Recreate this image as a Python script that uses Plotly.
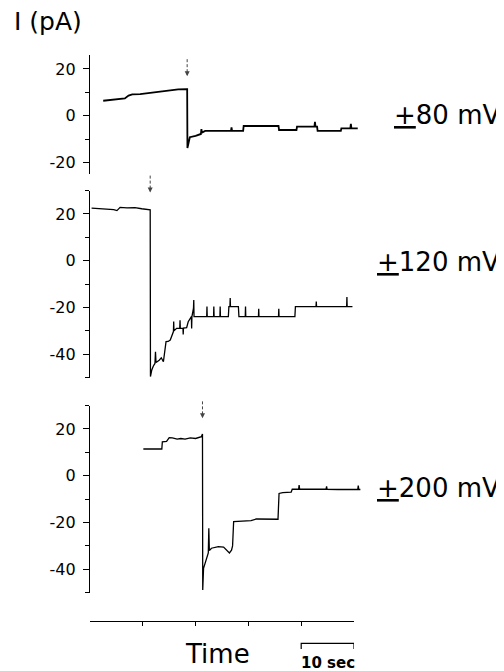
import plotly.graph_objects as go

# ---------------- data ----------------
# +/-80 mV trace (time in s, current in pA)
t_80 = [2.5, 4.5, 6.6, 7.3, 8.0, 9.5, 11.7, 13.0, 14.8, 16.7, 18.3, 18.4, 18.45, 18.9, 20.0, 20.6,
        21.0, 21.1, 21.2, 21.8, 26.7, 26.8, 26.9, 29.0, 29.1, 35.7, 35.8, 39.1, 39.2, 42.5, 42.6,
        42.7, 43.0, 43.1, 47.5, 47.6, 49.3, 49.4, 49.5, 50.7]
i_80 = [6.4, 6.8, 7.4, 8.6, 9.1, 9.2, 9.8, 10.1, 10.9, 11.3, 11.4, 11.4, -13.8, -9.2, -8.6, -8.2,
        -7.8, -5.7, -7.2, -6.5, -6.5, -5.0, -6.5, -6.5, -4.4, -4.4, -6.1, -6.1, -4.7, -4.7, -2.6,
        -4.7, -4.7, -6.5, -6.5, -5.4, -5.4, -3.5, -5.4, -5.4]

# +/-120 mV trace
t_120 = [0.3, 1.5, 3.0, 4.5, 5.1, 5.7, 7.0, 8.5, 9.8, 11.2, 11.4, 11.45, 11.7, 12.0, 12.3, 12.4,
         12.5, 13.1, 13.5, 13.9, 14.4, 14.8, 15.2, 15.8, 15.85, 15.9, 16.4, 17.0, 17.05, 17.1,
         17.6, 17.65, 17.7, 18.3, 18.6, 19.2, 19.25, 19.3, 19.6, 19.65, 19.7, 20.3, 22.1, 22.15,
         22.2, 23.4, 23.45, 23.5, 24.6, 24.65, 24.7, 26.2, 26.3, 26.5, 26.55, 26.6, 28.1, 28.2,
         29.4, 29.45, 29.5, 31.9, 31.95, 32.0, 35.7, 35.75, 35.8, 38.8, 38.9, 42.8, 42.85, 42.9,
         48.6, 48.65, 48.7, 49.7]
i_120 = [22.5, 22.3, 22.1, 21.8, 21.4, 22.8, 22.6, 22.7, 22.2, 21.7, 21.7, -49.5, -46.7, -45.0,
         -43.9, -38.9, -43.5, -42.5, -41.5, -43.2, -34.6, -34.5, -33.9, -30.3, -26.0, -30.0,
         -28.9, -28.9, -25.5, -28.9, -28.8, -31.5, -28.8, -28.6, -26.1, -23.9, -29.0, -23.9,
         -20.3, -16.8, -23.9, -23.9, -23.9, -19.6, -23.9, -23.9, -19.6, -23.9, -23.9, -19.6,
         -23.9, -23.9, -19.6, -19.6, -16.0, -19.6, -19.6, -23.9, -23.9, -19.6, -23.9, -23.9,
         -20.5, -23.9, -23.9, -20.5, -23.9, -23.9, -19.6, -19.6, -17.5, -19.6, -19.6, -15.5,
         -19.6, -19.6]

# +/-200 mV trace
t_200 = [10.1, 13.6, 13.7, 14.5, 15.0, 15.6, 16.5, 17.2, 18.0, 19.0, 20.0, 20.8, 21.1, 21.3,
         21.35, 21.5, 22.1, 22.4, 22.5, 22.6, 23.0, 23.7, 24.3, 25.3, 25.9, 26.4, 26.8, 27.0,
         27.2, 28.5, 30.5, 31.5, 33.0, 35.6, 35.8, 36.5, 38.1, 38.3, 39.5, 39.6, 39.7, 44.7,
         44.8, 44.9, 47.0, 50.7, 50.8, 50.9, 51.2]
i_200 = [11.4, 11.4, 14.5, 14.7, 16.3, 16.2, 15.6, 15.9, 15.6, 16.2, 15.9, 16.6, 16.7, 17.8,
         -48.8, -39.6, -35.3, -33.0, -22.5, -32.0, -31.0, -30.5, -30.3, -30.5, -31.8, -33.0,
         -31.8, -30.0, -19.6, -19.4, -19.2, -18.5, -18.6, -18.6, -7.6, -7.2, -7.0, -5.8, -5.8,
         -4.0, -5.8, -5.8, -4.6, -5.8, -5.9, -5.9, -4.2, -5.9, -5.9]

voltage_labels = ["<u>+</u>80 mV", "<u>+</u>120 mV", "<u>+</u>200 mV"]
switch_times = [18.4, 11.4, 21.3]          # voltage reversal (arrows)
arrow_tips = [16.9, 29.1, 24.5]            # current level at arrow tip (pA)
y_ranges = [[-25, 26], [-50, 30], [-50, 30]]
y_tick_vals = [[-20, 0, 20], [-40, -20, 0, 20], [-40, -20, 0, 20]]
y_tick_text = [["-20", "0", "20"], ["-40", "-20", "0", "20"], ["-40", "-20", "0", "20"]]
y_minor_vals = [[-10, 10], [-50, -30, -10, 10, 30], [-50, -30, -10, 10, 30]]
time_ticks = [0, 10, 20, 30, 40, 50]
scale_bar = [40, 50]                        # 10 sec bar

# ---------------- figure ----------------
# page body has an 8px margin: lay the figure out in reference-pixel terms, offset by 8
OFF = 8
W, H = 504 - OFF, 671 - OFF
FONT = "DejaVu Sans"


def fx(px):
    return (px - OFF) / W


def fy(py):
    return 1 - (py - OFF) / H


x_dom = [fx(90), fx(364.6)]
y_doms = [[fy(174.2), fy(54.9)], [fy(377.7), fy(190.5)], [fy(592.7), fy(405.5)]]

fig = go.Figure()
traces = [(t_80, i_80, 1.8), (t_120, i_120, 1.3), (t_200, i_200, 1.3)]
for k, (tt, ii, lw) in enumerate(traces):
    fig.add_trace(go.Scatter(x=tt, y=ii, mode="lines",
                             line=dict(color="black", width=lw),
                             xaxis="x" if k == 0 else f"x{k+1}",
                             yaxis="y" if k == 0 else f"y{k+1}",
                             hoverinfo="skip", cliponaxis=False))

# scale bar on the time-axis subplot (y4 measured downward from the time axis, px)
fig.add_trace(go.Scatter(x=[scale_bar[0], scale_bar[0], scale_bar[1], scale_bar[1]],
                         y=[27, 21.3, 21.3, 27], mode="lines",
                         line=dict(color="black", width=1.2),
                         xaxis="x4", yaxis="y4", hoverinfo="skip", cliponaxis=False))

layout = dict(width=W, height=H, autosize=False,
              margin=dict(l=0, r=0, t=0, b=0),
              paper_bgcolor="white", plot_bgcolor="white",
              showlegend=False,
              font=dict(family=FONT, color="black"))

for k in range(3):
    xn = "xaxis" if k == 0 else f"xaxis{k+1}"
    yn = "yaxis" if k == 0 else f"yaxis{k+1}"
    layout[xn] = dict(domain=x_dom, range=[0, 52], visible=False,
                      anchor="y" if k == 0 else f"y{k+1}")
    layout[yn] = dict(domain=y_doms[k], range=y_ranges[k],
                      anchor="x" if k == 0 else f"x{k+1}",
                      showline=True, linecolor="black", linewidth=1.3,
                      showgrid=False, zeroline=False,
                      ticks="outside", ticklen=6, tickwidth=1.2, tickcolor="black",
                      tickmode="array", tickvals=y_tick_vals[k], ticktext=y_tick_text[k],
                      ticklabelstandoff=4,
                      tickfont=dict(family=FONT, size=16, color="black"),
                      minor=dict(tickmode="array", tickvals=y_minor_vals[k],
                                 ticks="outside", ticklen=4,
                                 tickwidth=1.2, tickcolor="black"))

layout["xaxis4"] = dict(domain=[fx(90), fx(354)], range=[0, 50], anchor="y4", side="top",
                        showline=True, linecolor="black", linewidth=1.2,
                        showgrid=False, zeroline=False, showticklabels=False,
                        ticks="inside", ticklen=4, tickwidth=1, tickcolor="black",
                        tickvals=time_ticks)
layout["yaxis4"] = dict(domain=[fy(650), fy(622)], range=[28, 0], visible=False,
                        anchor="x4")

fig.update_layout(**layout)

annotations = []
shapes = []
label_y = [115, 262, 488]
for k in range(3):
    xr = "x" if k == 0 else f"x{k+1}"
    yr = "y" if k == 0 else f"y{k+1}"
    annotations.append(dict(x=fx(502), y=fy(label_y[k]), xref="paper", yref="paper",
                            text=voltage_labels[k], showarrow=False,
                            xanchor="right", yanchor="middle",
                            font=dict(family=FONT, size=26, color="black")))
    # dashed arrow marking the reversal (tip converted to paper fraction)
    r0, r1 = y_ranges[k]
    d0, d1 = y_doms[k]
    tip_paper = d0 + (arrow_tips[k] - r0) / (r1 - r0) * (d1 - d0)
    shapes.append(dict(type="line", xref=xr, yref="paper", ysizemode="pixel",
                       yanchor=tip_paper, x0=switch_times[k], x1=switch_times[k],
                       y0=4, y1=17, line=dict(color="#444", width=1, dash="3px,2px")))
    annotations.append(dict(x=switch_times[k], y=arrow_tips[k], xref=xr, yref=yr,
                            text="", showarrow=True, ax=0, ay=-6, arrowhead=2,
                            arrowsize=1, arrowwidth=1, arrowcolor="#444"))

annotations.append(dict(x=fx(12), y=fy(21), xref="paper", yref="paper", text="I (pA)",
                        showarrow=False, xanchor="left", yanchor="middle",
                        font=dict(family=FONT, size=25, color="black")))
annotations.append(dict(x=fx(217), y=fy(654), xref="paper", yref="paper", text="Time",
                        showarrow=False, xanchor="center", yanchor="middle",
                        font=dict(family=FONT, size=26, color="black")))
annotations.append(dict(x=(scale_bar[0] + scale_bar[1]) / 2, y=fy(663), xref="x4",
                        yref="paper", text="<b>10 sec</b>", showarrow=False,
                        xanchor="center", yanchor="middle",
                        font=dict(family=FONT, size=15, color="black")))

fig.update_layout(annotations=annotations, shapes=shapes)
fig.write_html("out.html")
